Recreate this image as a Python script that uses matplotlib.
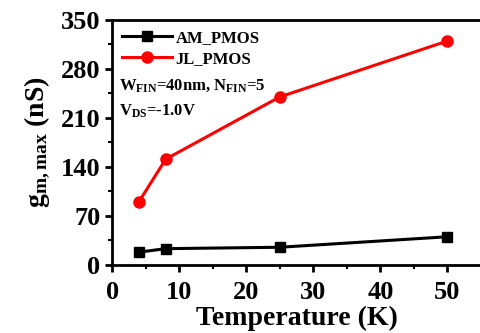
import matplotlib
matplotlib.use("Agg")
import matplotlib.pyplot as plt

plt.rcParams['font.family'] = ['Liberation Serif', 'DejaVu Serif']
plt.rcParams['font.weight'] = 'bold'
plt.rcParams['mathtext.fontset'] = 'custom'
plt.rcParams['mathtext.rm'] = 'Liberation Serif:bold'
plt.rcParams['mathtext.it'] = 'Liberation Serif:bold'
plt.rcParams['mathtext.bf'] = 'Liberation Serif:bold'

temperature = [4, 8, 25, 50]
am_pmos = [18, 23, 25, 40]
jl_pmos = [90, 151, 240, 320]
x_ticks = [0, 10, 20, 30, 40, 50]
y_ticks = [0, 70, 140, 210, 280, 350]

fig = plt.figure(figsize=(4.81, 3.33), dpi=100)
ax = fig.add_axes([0.233, 0.205, 0.767, 0.735])

ax.plot(temperature, am_pmos, color='black', marker='s', markersize=7,
        linewidth=2.2, label='AM_PMOS')
ax.plot(temperature, jl_pmos, color='red', marker='o', markersize=8,
        linewidth=2.2, label='JL_PMOS')

ax.set_xlim(0, 55)
ax.set_ylim(0, 350)
ax.set_xticks(x_ticks)
ax.set_yticks(y_ticks)
ax.set_xticks([5, 15, 25, 35, 45], minor=True)
ax.set_yticks([35, 105, 175, 245, 315], minor=True)
ax.tick_params(axis='both', which='major', labelsize=19, width=2, length=5,
               direction='out')
ax.tick_params(axis='x', which='major', pad=7)
ax.tick_params(axis='both', which='minor', width=1.5, length=3, direction='out')
for lbl in ax.get_xticklabels() + ax.get_yticklabels():
    lbl.set_fontweight('bold')
for s in ax.spines.values():
    s.set_linewidth(2)

ax.set_xlabel('Temperature (K)', fontsize=20, fontweight='bold', labelpad=1)
ax.set_ylabel(r'$\mathregular{g_{m,max}}$ (nS)', fontsize=20, fontweight='bold',
              labelpad=6)

ax.legend(loc='upper left', frameon=False, handlelength=3,
          borderaxespad=0.2, labelspacing=0.3, handletextpad=0.2,
          prop={'weight': 'bold', 'size': 12})

ax.text(0.02, 0.73, r'$\mathregular{W_{FIN}}$=40nm, $\mathregular{N_{FIN}}$=5',
        transform=ax.transAxes, fontsize=12, fontweight='bold', va='center')
ax.text(0.02, 0.625, r'$\mathregular{V_{DS}}$=-1.0V',
        transform=ax.transAxes, fontsize=12, fontweight='bold', va='center')

fig.savefig('out.png', dpi=100)
